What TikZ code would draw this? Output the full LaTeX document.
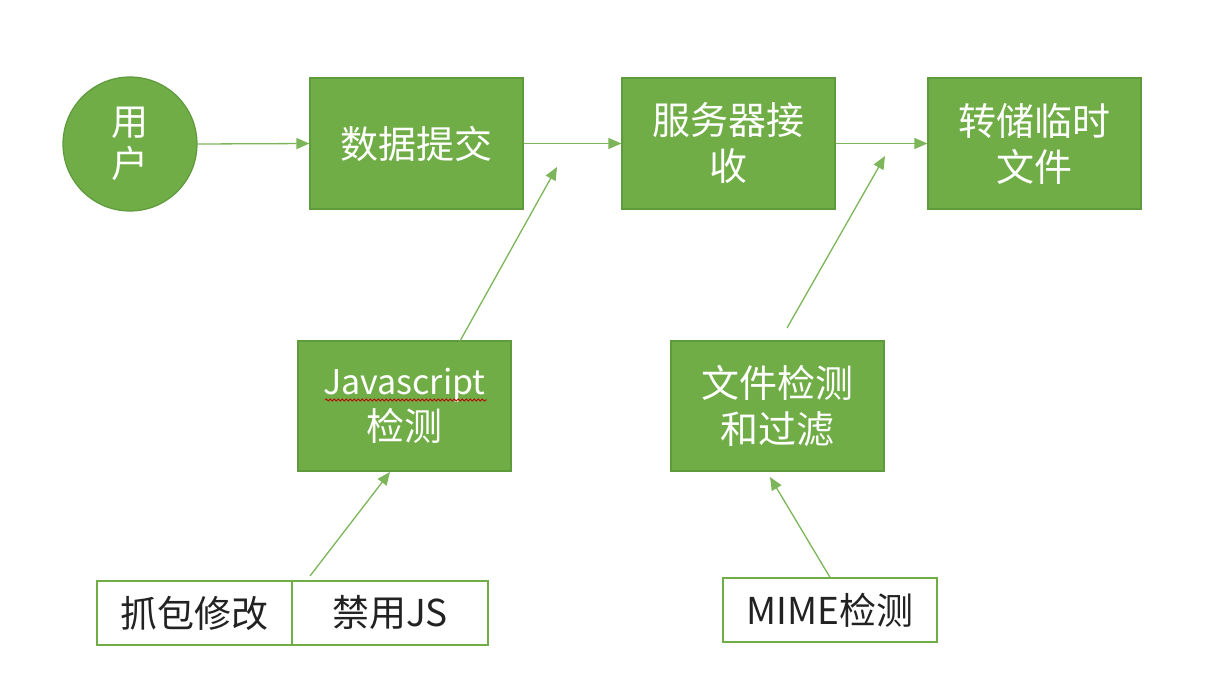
\documentclass[tikz,border=0pt]{standalone}
\usepackage{fontspec}
\setmainfont{Noto Sans CJK SC}
\usetikzlibrary{arrows.meta,decorations.pathmorphing}
\definecolor{gfill}{HTML}{70AD47}
\definecolor{gline}{HTML}{5E9B3C}
\definecolor{garrow}{HTML}{7DB65A}
\definecolor{txtdark}{HTML}{222222}
\begin{document}
\begin{tikzpicture}[x=1pt,y=-1pt,
  gbox/.style={draw=gline,line width=1.2pt,fill=gfill,text=white,align=center,
    font=\fontsize{38}{46}\selectfont,minimum width=213pt,minimum height=131pt,inner sep=0pt},
  wbox/.style={draw=gfill,line width=1.2pt,fill=white,text=txtdark,align=center,
    font=\fontsize{37}{44}\selectfont,minimum height=64pt,inner sep=0pt},
  conn/.style={draw=garrow,line width=1.3pt,-{Triangle[length=13pt,width=11pt]}}]
\useasboundingbox (0,0) rectangle (1208,686);
\fill[white] (0,0) rectangle (1208,686);

\node[gbox,circle,minimum width=134pt,minimum height=134pt,font=\fontsize{37}{42}\selectfont] (user) at (130,144) {用\\户};
\node[gbox] (submit) at (416.5,143.5) {数据提交};
\node[gbox] (server) at (728.5,143.5) {服务器接\\收};
\node[gbox] (store) at (1034.5,143.5) {转储临时\\文件};
\node[gbox,minimum height=130pt] (js) at (404.5,406) {{\fontsize{34}{46}\selectfont Javascript}\\检测};
\node[gbox,minimum height=130pt] (fc) at (777.5,406) {文件检测\\和过滤};
\node[wbox,minimum width=195pt] (capture) at (194.5,613) {抓包修改};
\node[wbox,minimum width=196pt] (disable) at (390,613) {禁用JS};
\node[wbox,minimum width=214pt] (mime) at (830,610) {MIME检测};

\draw[red!75!black,line width=0.8pt,decorate,decoration={snake,amplitude=1pt,segment length=4pt}] (325,400) -- (487,400);

\coordinate (jsstart) at (460,341);
\coordinate (jsend) at (557,167);
\coordinate (fcstart) at (787,328);
\coordinate (fcend) at (885,156);
\coordinate (dstart) at (310,576);
\coordinate (dend) at (390,472);
\coordinate (mend) at (770,477);

\draw[conn] (user.east) -- (submit.west);
\draw[conn] (submit.east) -- (server.west);
\draw[conn] (server.east) -- (store.west);
\draw[conn] (jsstart) -- (jsend);
\draw[conn] (fcstart) -- (fcend);
\draw[conn] (dstart) -- (dend);
\draw[conn] (mime.north) -- (mend);
\end{tikzpicture}
\end{document}
